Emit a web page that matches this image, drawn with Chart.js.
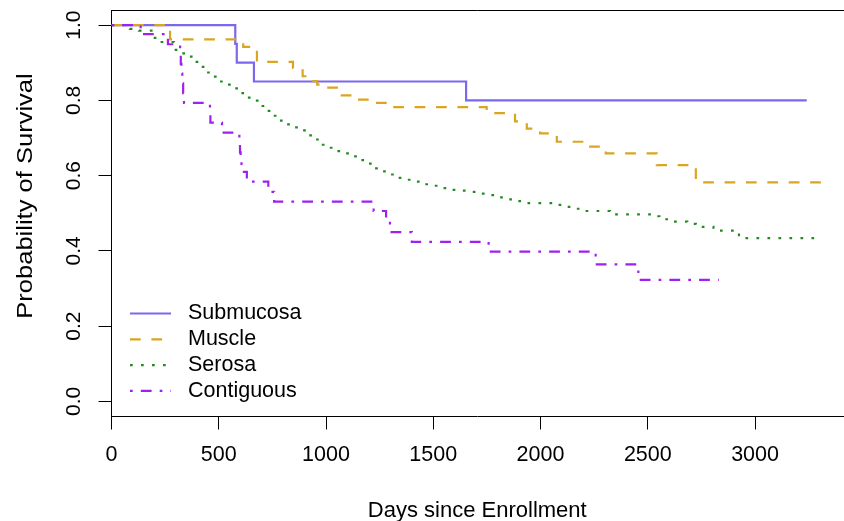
<!DOCTYPE html>
<html>
<head>
<meta charset="utf-8">
<script src="https://cdn.jsdelivr.net/npm/chart.js@4.4.0/dist/chart.umd.min.js"></script>
<style>
  html, body { margin: 0; padding: 0; background: #fff; }
  canvas { display: block; }
</style>
</head>
<body>
<canvas id="survChart" width="844" height="521"></canvas>
<script>
// Kaplan-Meier curves (days, survival probability)
const submucosaDays = [0, 577, 584, 664, 1653, 3241];
const submucosaSurv = [1, 0.95, 0.9, 0.85, 0.8, 0.8];

const muscleDays = [0, 273, 614, 678, 846, 891, 930, 959, 980, 1061, 1140, 1219, 1298, 1749, 1881, 1936, 1998, 2076, 2215, 2304, 2542, 2724, 3312];
const muscleSurv = [1, 0.962, 0.942, 0.902, 0.886, 0.864, 0.851, 0.842, 0.834, 0.813, 0.802, 0.793, 0.782, 0.766, 0.744, 0.725, 0.712, 0.69, 0.677, 0.659, 0.628, 0.582, 0.582];

const serosaDays = [0, 60, 86, 128, 192, 226, 291, 324, 361, 389, 417, 441, 472, 500, 537, 571, 596, 627, 661, 692, 717, 747, 773, 809, 845, 882, 911, 941, 969, 1006, 1042, 1081, 1117, 1151, 1185, 1216, 1252, 1288, 1322, 1365, 1407, 1446, 1490, 1528, 1573, 1620, 1665, 1707, 1749, 1791, 1833, 1873, 1917, 2062, 2103, 2147, 2184, 2324, 2517, 2554, 2596, 2684, 2724, 2806, 2925, 3294];
const serosaSurv = [1, 0.995, 0.99, 0.985, 0.966, 0.955, 0.934, 0.925, 0.916, 0.902, 0.889, 0.874, 0.863, 0.85, 0.842, 0.832, 0.819, 0.807, 0.799, 0.785, 0.772, 0.759, 0.746, 0.736, 0.728, 0.72, 0.707, 0.696, 0.682, 0.674, 0.665, 0.659, 0.651, 0.641, 0.632, 0.619, 0.611, 0.603, 0.594, 0.589, 0.584, 0.577, 0.573, 0.567, 0.562, 0.56, 0.557, 0.552, 0.548, 0.542, 0.537, 0.532, 0.527, 0.522, 0.517, 0.512, 0.506, 0.497, 0.492, 0.484, 0.478, 0.472, 0.464, 0.454, 0.434, 0.434];

const contiguousDays = [0, 136, 263, 320, 323, 326, 330, 334, 338, 459, 461, 515, 596, 599, 602, 606, 631, 731, 758, 1222, 1280, 1298, 1400, 1758, 2257, 2456, 2831];
const contiguousSurv = [1, 0.976, 0.949, 0.923, 0.897, 0.871, 0.845, 0.819, 0.793, 0.767, 0.741, 0.714, 0.688, 0.662, 0.636, 0.61, 0.584, 0.557, 0.531, 0.506, 0.478, 0.45, 0.424, 0.398, 0.364, 0.323, 0.323];

const groupNames = ['Submucosa', 'Muscle', 'Serosa', 'Contiguous'];
const xTicks = [0, 500, 1000, 1500, 2000, 2500, 3000];
const yTicks = [0, 0.2, 0.4, 0.6, 0.8, 1.0];

const toPoints = (days, surv) => days.map((d, i) => ({ x: d, y: surv[i] }));

const FONT = '"Liberation Sans", Arial, Helvetica, sans-serif';
Chart.defaults.font.family = FONT;

// box top, rotated y labels and the legend (R style)
const rStylePlugin = {
    id: 'rStyle',
    afterDraw(chart) {
        const { ctx, chartArea, scales } = chart;
        ctx.save();
        ctx.strokeStyle = '#000';
        ctx.lineWidth = 1;
        ctx.beginPath();
        ctx.moveTo(chartArea.left, Math.round(chartArea.top) + 0.5);
        ctx.lineTo(chart.width, Math.round(chartArea.top) + 0.5);
        ctx.stroke();

        ctx.fillStyle = '#000';
        ctx.textAlign = 'center';
        ctx.textBaseline = 'middle';
        ctx.font = '21px ' + FONT;
        yTicks.forEach((v) => {
            const py = scales.y.getPixelForValue(v);
            ctx.save();
            ctx.translate(74, py);
            ctx.rotate(-Math.PI / 2);
            ctx.fillText(v.toFixed(1), 0, 0);
            ctx.restore();
        });

        ctx.save();
        ctx.translate(26, 196);
        ctx.rotate(-Math.PI / 2);
        ctx.scale(1.16, 1);
        ctx.font = '22px ' + FONT;
        ctx.fillText('Probability of Survival', 0, 0);
        ctx.restore();

        ctx.textAlign = 'left';
        ctx.font = '21.5px ' + FONT;
        chart.data.datasets.forEach((ds, i) => {
            const ly = 313.5 + i * 25.8;
            ctx.strokeStyle = ds.borderColor;
            ctx.lineWidth = ds.borderWidth;
            ctx.setLineDash(ds.borderDash);
            ctx.beginPath();
            ctx.moveTo(130, ly);
            ctx.lineTo(171, ly);
            ctx.stroke();
            ctx.setLineDash([]);
            ctx.fillText(ds.label, 188, ly);
        });
        ctx.restore();
    },
};

const colors = ['#7B68EE', '#DAA520', '#228B22', '#A020F0'];
const dashes = [[], [10.7, 10.7], [2.7, 8.3], [2.7, 8.1, 10.8, 8.1]];
const series = [
    toPoints(submucosaDays, submucosaSurv),
    toPoints(muscleDays, muscleSurv),
    toPoints(serosaDays, serosaSurv),
    toPoints(contiguousDays, contiguousSurv),
];

new Chart(document.getElementById('survChart'), {
    type: 'line',
    data: {
        datasets: groupNames.map((name, i) => ({
            label: name,
            data: series[i],
            borderColor: colors[i],
            borderWidth: 2.2,
            borderDash: dashes[i],
            stepped: true,
            pointRadius: 0,
            fill: false,
            order: groupNames.length - i,
        })),
    },
    options: {
        responsive: false,
        animation: false,
        layout: { padding: { top: 10, right: 1, left: 0, bottom: 0 } },
        plugins: { legend: { display: false }, tooltip: { enabled: false } },
        scales: {
            x: {
                type: 'linear',
                min: 0,
                max: 3410,
                afterBuildTicks: (s) => { s.ticks = xTicks.map((v) => ({ value: v })); },
                afterFit: (s) => { s.height = 104.5; },
                ticks: { color: '#000', font: { size: 21.5 }, padding: 13, maxRotation: 0, autoSkip: false, callback: (v) => String(v) },
                grid: { drawOnChartArea: false, drawTicks: true, tickLength: 13, color: '#000', lineWidth: 1 },
                border: { display: true, color: '#000', width: 1 },
                title: { display: true, text: 'Days since Enrollment', color: '#000', font: { size: 22, lineHeight: 0.9 }, padding: 0 },
            },
            y: {
                type: 'linear',
                min: -0.04,
                max: 1.04,
                afterBuildTicks: (s) => { s.ticks = yTicks.map((v) => ({ value: v })); },
                afterFit: (s) => { s.width = 111.5; },
                ticks: { display: false },
                grid: { drawOnChartArea: false, drawTicks: true, tickLength: 13, color: '#000', lineWidth: 1 },
                border: { display: true, color: '#000', width: 1 },
            },
        },
    },
    plugins: [rStylePlugin],
});
</script>
</body>
</html>
